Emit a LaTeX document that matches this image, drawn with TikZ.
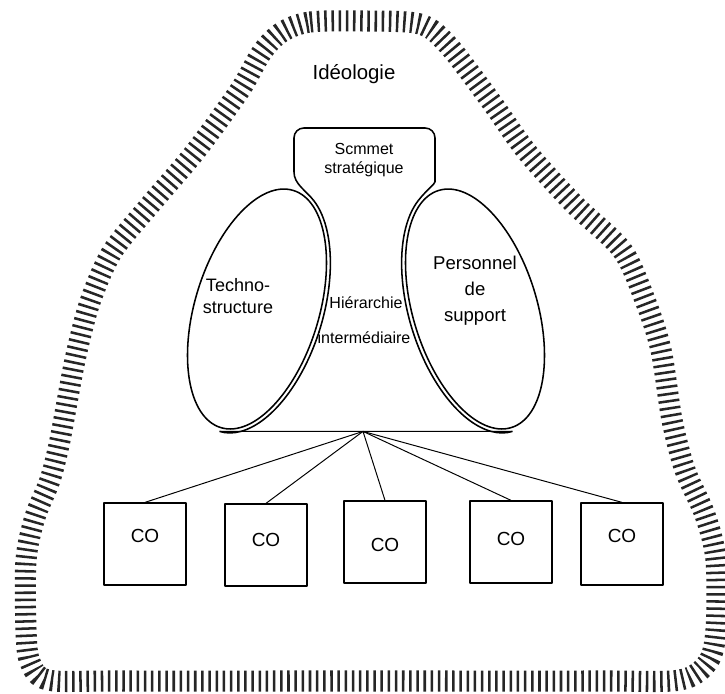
\documentclass[tikz,border=0pt]{standalone}
\usepackage{fontspec}
\setmainfont{Liberation Sans}

\begin{document}
\begin{tikzpicture}[x=0.025cm, y=-0.025cm, line join=round,
  ideology/.style={line width=15pt, dash pattern=on 1.8pt off 3.3pt, black!85},
  part/.style={draw, line width=1.1pt},
  link/.style={line width=0.7pt},
  cobox/.style={draw, line width=0.9pt, minimum width=2.05cm, minimum height=2.05cm, inner sep=0pt, text depth=6pt, font=\fontsize{13.5}{16}\selectfont},
  partlabel/.style={align=center, font=\fontsize{12.8}{15.2}\selectfont},
  midlabel/.style={font=\fontsize{11.4}{13}\selectfont}
]
  \useasboundingbox (0,0) rectangle (725,693);

  \draw[ideology] plot[smooth cycle, tension=0.5] coordinates {
    (282,32) (310,22) (365,21) (420,24) (448,45) (490,100) (527,152)
    (575,205) (622,250) (645,300) (661,350) (672,420) (685,470) (705,515)
    (716,560) (716,630) (708,662) (680,680) (600,681) (363,681) (120,681)
    (48,680) (30,662) (26,630) (26,560) (35,517) (50,480) (60,440)
    (75,360) (90,302) (112,252) (150,205) (195,152) (240,90) (262,52)};

  \begin{scope}[shift={(257,309)}, rotate=-17]
    \draw[part] (0,0) ellipse [x radius=62, y radius=124];
    \draw[part] (-70:66 and 128) coordinate (ltop)
      arc[start angle=-70, end angle=90, x radius=66, y radius=128] coordinate (lbot);
  \end{scope}
  \begin{scope}[shift={(475,309)}, rotate=17]
    \draw[part] (0,0) ellipse [x radius=62, y radius=124];
    \draw[part] (250:66 and 128) coordinate (rtop)
      arc[start angle=250, end angle=90, x radius=66, y radius=128] coordinate (rbot);
  \end{scope}

  \draw[part] (ltop) .. controls +(-8,-10.3) and (294,184) .. (294,172)
    [rounded corners=7pt] -- (294,128) -- (435,128) -- (435,172)
    [sharp corners] .. controls (435,184) and +(8,-10.3) .. (rtop);

  \coordinate (hub) at (363,431.4);
  \draw[link, line width=0.8pt] (lbot) -- (hub) -- (rbot);

  \node[font=\fontsize{14.5}{17}\selectfont, anchor=base] (ideo) at (354,79) {Idéologie};
  \node[midlabel, align=center] (sommet) at (364,160) {Scmmet\\stratégique};
  \node[partlabel] (techno) at (238,296) {Techno-\\structure};
  \node[partlabel, font=\fontsize{13.2}{18.4}\selectfont] (support) at (475,291) {Personnel\\de\\support};
  \node[midlabel, anchor=base] (hier) at (366,308) {Hiérarchie};
  \node[midlabel, anchor=base] (inter) at (364,343) {intermédiaire};

  \node[cobox, text depth=11pt] (co1) at (145,544) {CO};
  \node[cobox, text depth=8pt] (co2) at (266,545) {CO};
  \node[cobox, text depth=0pt, text height=13.5pt] (co3) at (385,542) {CO};
  \node[cobox, text depth=4pt] (co4) at (511,542) {CO};
  \node[cobox, text depth=11pt] (co5) at (622,544) {CO};

  \draw[link] (hub) -- (co1.north);
  \draw[link] (hub) -- (co2.north);
  \draw[link] (hub) -- (co3.north);
  \draw[link] (hub) -- (co4.north);
  \draw[link] (hub) -- (co5.north);
\end{tikzpicture}
\end{document}
